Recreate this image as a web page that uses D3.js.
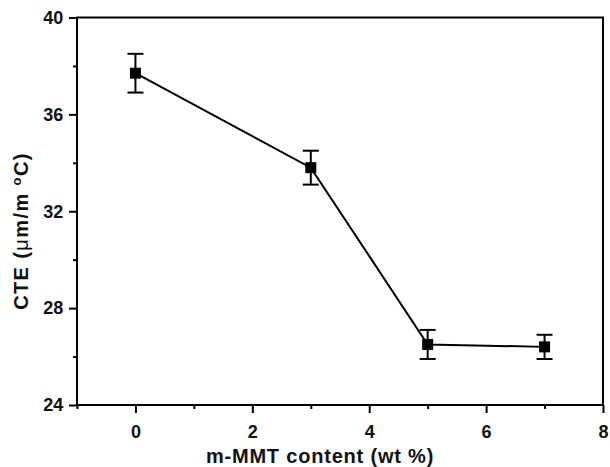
<!DOCTYPE html>
<html><head><meta charset="utf-8">
<script src="https://cdn.jsdelivr.net/npm/d3@7/dist/d3.min.js"></script>
<style>body{margin:0;background:#fff}svg{display:block}text{font-family:"Liberation Sans",Arial,sans-serif;font-weight:bold}</style>
</head><body>
<script>
const contents = [0, 3, 5, 7];
const cte = [37.7, 33.8, 26.5, 26.4];
const cteErr = [0.8, 0.7, 0.6, 0.5];
const xTicks = [0, 2, 4, 6, 8];
const yTicks = [24, 28, 32, 36, 40];
const xMinor = [-1, 1, 3, 5, 7];
const yMinor = [26, 30, 34, 38];

const W = 610, H = 467;
const m = {l: 77, r: 7, t: 17.5, b: 62};
const svg = d3.select("body").append("svg").attr("width", W).attr("height", H);
const x = d3.scaleLinear().domain([-1, 8]).range([m.l, W - m.r]);
const y = d3.scaleLinear().domain([24, 40]).range([H - m.b, m.t]);

svg.append("rect").attr("x", x(-1)).attr("y", y(40)).attr("width", x(8) - x(-1)).attr("height", y(24) - y(40))
  .attr("fill", "none").attr("stroke", "#000").attr("stroke-width", 2);

const xAxis = svg.append("g").attr("transform", `translate(0,${y(24)})`)
  .call(d3.axisBottom(x).tickValues(xTicks).tickFormat(d3.format("d")).tickSize(8).tickSizeOuter(0));
const xAxisMinor = svg.append("g").attr("transform", `translate(0,${y(24)})`)
  .call(d3.axisBottom(x).tickValues(xMinor).tickFormat("").tickSize(4).tickSizeOuter(0));
const yAxis = svg.append("g").attr("transform", `translate(${x(-1)},0)`)
  .call(d3.axisLeft(y).tickValues(yTicks).tickFormat(d3.format("d")).tickSize(8).tickSizeOuter(0));
const yAxisMinor = svg.append("g").attr("transform", `translate(${x(-1)},0)`)
  .call(d3.axisLeft(y).tickValues(yMinor).tickFormat("").tickSize(4).tickSizeOuter(0));
[xAxis, xAxisMinor, yAxis, yAxisMinor].forEach(g => {
  g.attr("font-size", null).attr("font-family", null);
  g.select(".domain").remove();
  g.selectAll("line").attr("stroke", "#000").attr("stroke-width", 2);
  g.selectAll("text").style("font-size", "18px").style("font-weight", "bold").attr("fill", "#111");
});
xAxis.selectAll("text").attr("dy", "1.2em");
yAxis.selectAll("text").attr("dx", "-0.15em");

const pts = contents.map((c, i) => ({x: c, y: cte[i], e: cteErr[i]}));
svg.append("path").datum(pts).attr("fill", "none").attr("stroke", "#000").attr("stroke-width", 2)
  .attr("d", d3.line().x(d => x(d.x)).y(d => y(d.y)));

const eb = svg.append("g").attr("stroke", "#000").attr("stroke-width", 2);
eb.selectAll(".v").data(pts).join("line").attr("x1", d => x(d.x)).attr("x2", d => x(d.x))
  .attr("y1", d => y(d.y - d.e)).attr("y2", d => y(d.y + d.e));
eb.selectAll(".t").data(pts).join("line").attr("x1", d => x(d.x) - 8).attr("x2", d => x(d.x) + 8)
  .attr("y1", d => y(d.y + d.e)).attr("y2", d => y(d.y + d.e));
eb.selectAll(".b").data(pts).join("line").attr("x1", d => x(d.x) - 8).attr("x2", d => x(d.x) + 8)
  .attr("y1", d => y(d.y - d.e)).attr("y2", d => y(d.y - d.e));

svg.append("g").selectAll("rect").data(pts).join("rect")
  .attr("x", d => x(d.x) - 5.5).attr("y", d => y(d.y) - 5.5).attr("width", 11).attr("height", 11).attr("fill", "#000");

svg.append("text").attr("x", 320).attr("y", 463).attr("text-anchor", "middle").style("font-size", "20px")
  .style("letter-spacing", "0.8px").attr("fill", "#111")
  .text("m-MMT content (wt %)");
const yl = svg.append("text").attr("transform", "translate(28,231) rotate(-90)").attr("text-anchor", "middle")
  .style("font-size", "20px").style("letter-spacing", "1.4px").attr("fill", "#111");
yl.append("tspan").text("CTE (");
yl.append("tspan").style("font-weight", "normal").text("μ");
yl.append("tspan").text("m/m ");
yl.append("tspan").style("font-size", "13px").attr("dy", -7).text("o");
yl.append("tspan").attr("dy", 7).text("C)");
</script>
</body></html>
